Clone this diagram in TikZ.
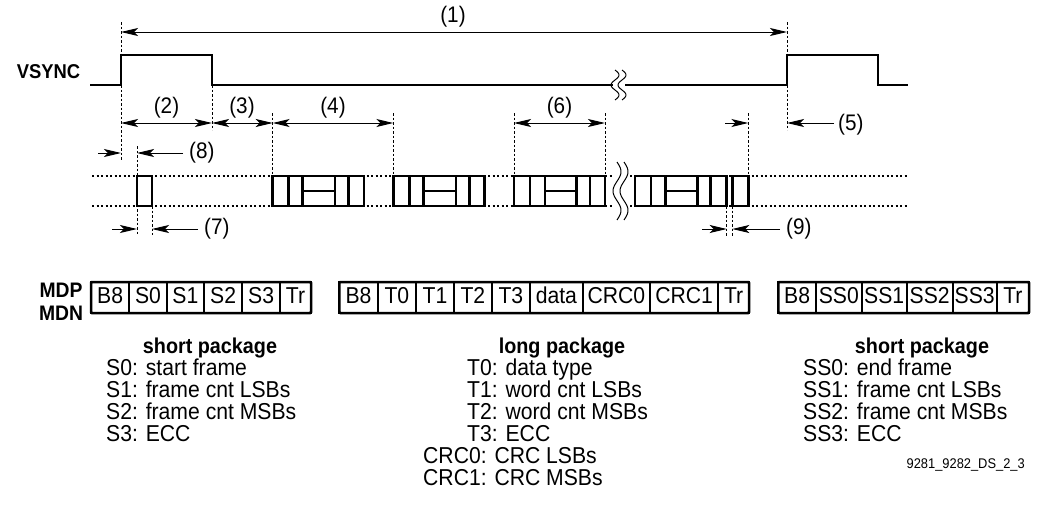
\documentclass[tikz,border=0pt]{standalone}
\usepackage{fontspec}
\setmainfont{Liberation Sans}[FakeStretch=0.92]
\usetikzlibrary{arrows.meta}
\newcommand\mysquig[3]{%
  \draw[line width=1pt] plot[domain=0:1, samples=40, smooth, variable=\t]
    ({#1+4*sin(\t*540)}, {#2+\t*(#3-#2)});}
\begin{document}
\begin{tikzpicture}[x=1pt,y=-1pt,
  sig/.style={line width=2.6pt, line join=miter},
  guide/.style={line width=0.8pt, dash pattern=on 2.5pt off 2pt},
  dim/.style={line width=1pt, {Stealth[length=17pt,width=8pt,inset=4pt]}-{Stealth[length=17pt,width=8pt,inset=4pt]}},
  arr/.style={line width=1pt, -{Stealth[length=17pt,width=8pt,inset=4pt]}},
  lbl/.style={font=\fontsize{22.5}{22}\selectfont, inner sep=0pt},
  txt/.style={font=\fontsize{23}{22}\selectfont, inner sep=0pt, anchor=base west},
  head/.style={font=\bfseries\fontsize{21.5}{21}\selectfont, inner sep=0pt, anchor=base},
  dots/.style={line width=2.2pt, dash pattern=on 2pt off 2.5pt},
  pk/.style={line width=2.5pt},
  cellline/.style={line width=1.8pt},
  outer/.style={line width=2.5pt, rounded corners=1pt},
  cell/.style={font=\fontsize{23}{22}\selectfont, inner sep=0pt, anchor=base}]
\useasboundingbox (0,0) rectangle (1042,512);

% ---------- VSYNC ----------
\node[font=\bfseries\fontsize{20}{20}\selectfont, inner sep=0pt] (vs) at (48.5,72) {VSYNC};
\draw[sig] (90,85) -- (121,85) -- (121,55) -- (212,55) -- (212,85) -- (613,85);
\draw[sig] (625,85) -- (787,85) -- (787,55) -- (878,55) -- (878,85) -- (908,85);
\mysquig{615}{70}{100}
\mysquig{622}{70}{100}

% ---------- guide lines ----------
\coordinate (g1t) at (121,22);  \coordinate (g1b) at (121,160);
\coordinate (g2t) at (212,85);  \coordinate (g2b) at (212,130);
\coordinate (g5t) at (787,22);  \coordinate (g5b) at (787,130);
\draw[guide] (g1t) -- (g1b);
\draw[guide] (g2t) -- (g2b);
\draw[guide] (g5t) -- (g5b);
\foreach \x in {272.7,393.3,514,605,748.3} \draw[guide] (\x,113) -- (\x,176);
\draw[guide] (137,146) -- (137,235);
\draw[guide] (152,206) -- (152,235);
\draw[guide] (726.7,206) -- (726.7,236);
\draw[guide] (732.3,206) -- (732.3,236);

% ---------- dimension arrows ----------
\coordinate (a1l) at (121,32); \coordinate (a1r) at (787,32);
\draw[dim] (a1l) -- (a1r);
\node[lbl] (l1) at (453,17) {(1)};

\coordinate (d0) at (121,123); \coordinate (d1) at (212,123);
\coordinate (d2) at (272.7,123); \coordinate (d3) at (393.3,123);
\coordinate (d4) at (514,123); \coordinate (d5) at (605,123);
\draw[dim] (d0) -- (d1);
\draw[dim] (d1) -- (d2);
\draw[dim] (d2) -- (d3);
\draw[dim] (d4) -- (d5);
\node[lbl] (l2) at (166.5,108) {(2)};
\node[lbl] (l3) at (242,108) {(3)};
\node[lbl] (l4) at (333,108) {(4)};
\node[lbl] (l6) at (559.5,108) {(6)};

\coordinate (e1) at (725,123); \coordinate (e2) at (748.3,123);
\draw[arr] (e1) -- (e2);
\coordinate (e3) at (834,123); \coordinate (e4) at (787,123);
\draw[arr] (e3) -- (e4);
\node[lbl, anchor=west] (l5) at (838,125) {(5)};

\coordinate (f1) at (98,153); \coordinate (f2) at (121,153);
\draw[arr] (f1) -- (f2);
\coordinate (f3) at (183,153); \coordinate (f4) at (137,153);
\draw[arr] (f3) -- (f4);
\node[lbl, anchor=west] (l8) at (189,153) {(8)};

\coordinate (h1) at (112,229); \coordinate (h2) at (137,229);
\draw[arr] (h1) -- (h2);
\coordinate (h3) at (198,229); \coordinate (h4) at (152,229);
\draw[arr] (h3) -- (h4);
\node[lbl, anchor=west] (l7) at (204,229) {(7)};

\coordinate (k1) at (702,229); \coordinate (k2) at (726.7,229);
\draw[arr] (k1) -- (k2);
\coordinate (k3) at (780,229); \coordinate (k4) at (732.3,229);
\draw[arr] (k3) -- (k4);
\node[lbl, anchor=west] (l9) at (786,229) {(9)};

% ---------- data lanes ----------
\draw[dots] (92,176) -- (612,176);
\draw[dots] (92,206) -- (612,206);
\draw[dots] (630,176) -- (907,176);
\draw[dots] (630,206) -- (907,206);
\mysquig{617}{162}{220}
\mysquig{624}{162}{220}

\foreach \a/\b/\c/\d/\e/\f in {272.7/288.3/302.7/335/348.3/364,
                               393.3/409.3/423.3/456/469.3/484.3,
                               514/530/545/576.7/590/605,
                               635/651/665.7/697.3/710.7/726.7}{
  \draw[pk, fill=white] (\a,176) rectangle (\f,206);
  \draw[pk] (\b,176) -- (\b,206) (\c,176) -- (\c,206) (\d,176) -- (\d,206) (\e,176) -- (\e,206);
  \draw[pk] (\c,191) -- (\d,191);
}
\draw[pk, fill=white] (137,176) rectangle (152,206);
\draw[pk, fill=white] (732.3,176) rectangle (748.3,206);

% ---------- packet boxes ----------
\node[font=\bfseries\fontsize{21}{21}\selectfont, inner sep=0pt] (mdp) at (61,290) {MDP};
\node[font=\bfseries\fontsize{21}{21}\selectfont, inner sep=0pt] (mdn) at (61,313) {MDN};

\foreach \a/\b/\t [count=\i] in {91/129.3/B8, 129.3/166.7/S0, 166.7/204/S1, 204/242.3/S2, 242.3/280/S3, 280/311/Tr}{
  \draw[cellline] (\a,282) rectangle (\b,313);
  \node[cell] (pa\i) at ({(\a+\b)/2},303) {\t};
}
\draw[outer] (91,282) rectangle (311,313);

\foreach \a/\b/\t [count=\i] in {339.3/377.7/B8, 377.7/416/T0, 416/454/T1, 454/491.7/T2, 491.7/530/T3, 530/582.7/data, 582.7/650/CRC0, 650/718.3/CRC1, 718.3/749/Tr}{
  \draw[cellline] (\a,282) rectangle (\b,313);
  \node[cell] (pb\i) at ({(\a+\b)/2},303) {\t};
}
\draw[outer] (339.3,282) rectangle (749,313);

\foreach \a/\b/\t [count=\i] in {778.3/816/B8, 816/861.7/SS0, 861.7/906.7/SS1, 906.7/952.7/SS2, 952.7/996.7/SS3, 996.7/1029/Tr}{
  \draw[cellline] (\a,282) rectangle (\b,313);
  \node[cell] (pc\i) at ({(\a+\b)/2},303) {\t};
}
\draw[outer] (778.3,282) rectangle (1029,313);

% ---------- legends ----------
\node[head] (hs1) at (210,353) {short package};
\node[txt] (s0) at (106,375) {S0: start frame};
\node[txt] (s1) at (106,397) {S1: frame cnt LSBs};
\node[txt] (s2) at (106,419) {S2: frame cnt MSBs};
\node[txt] (s3) at (106,441) {S3: ECC};

\node[head] (hl) at (562,353) {long package};
\node[txt] (t0) at (467,375) {T0: data type};
\node[txt] (t1) at (467,397) {T1: word cnt LSBs};
\node[txt] (t2) at (467,419) {T2: word cnt MSBs};
\node[txt] (t3) at (467,441) {T3: ECC};
\node[txt] (c0) at (423,463) {CRC0: CRC LSBs};
\node[txt] (c1) at (423,485) {CRC1: CRC MSBs};

\node[head] (hs2) at (922,353) {short package};
\node[txt] (ss0) at (803,375) {SS0: end frame};
\node[txt] (ss1) at (803,397) {SS1: frame cnt LSBs};
\node[txt] (ss2) at (803,419) {SS2: frame cnt MSBs};
\node[txt] (ss3) at (803,441) {SS3: ECC};

\node[font=\fontsize{14}{14}\selectfont, inner sep=0pt, anchor=base east] (id) at (1025,468) {9281\_9282\_DS\_2\_3};
\end{tikzpicture}
\end{document}
